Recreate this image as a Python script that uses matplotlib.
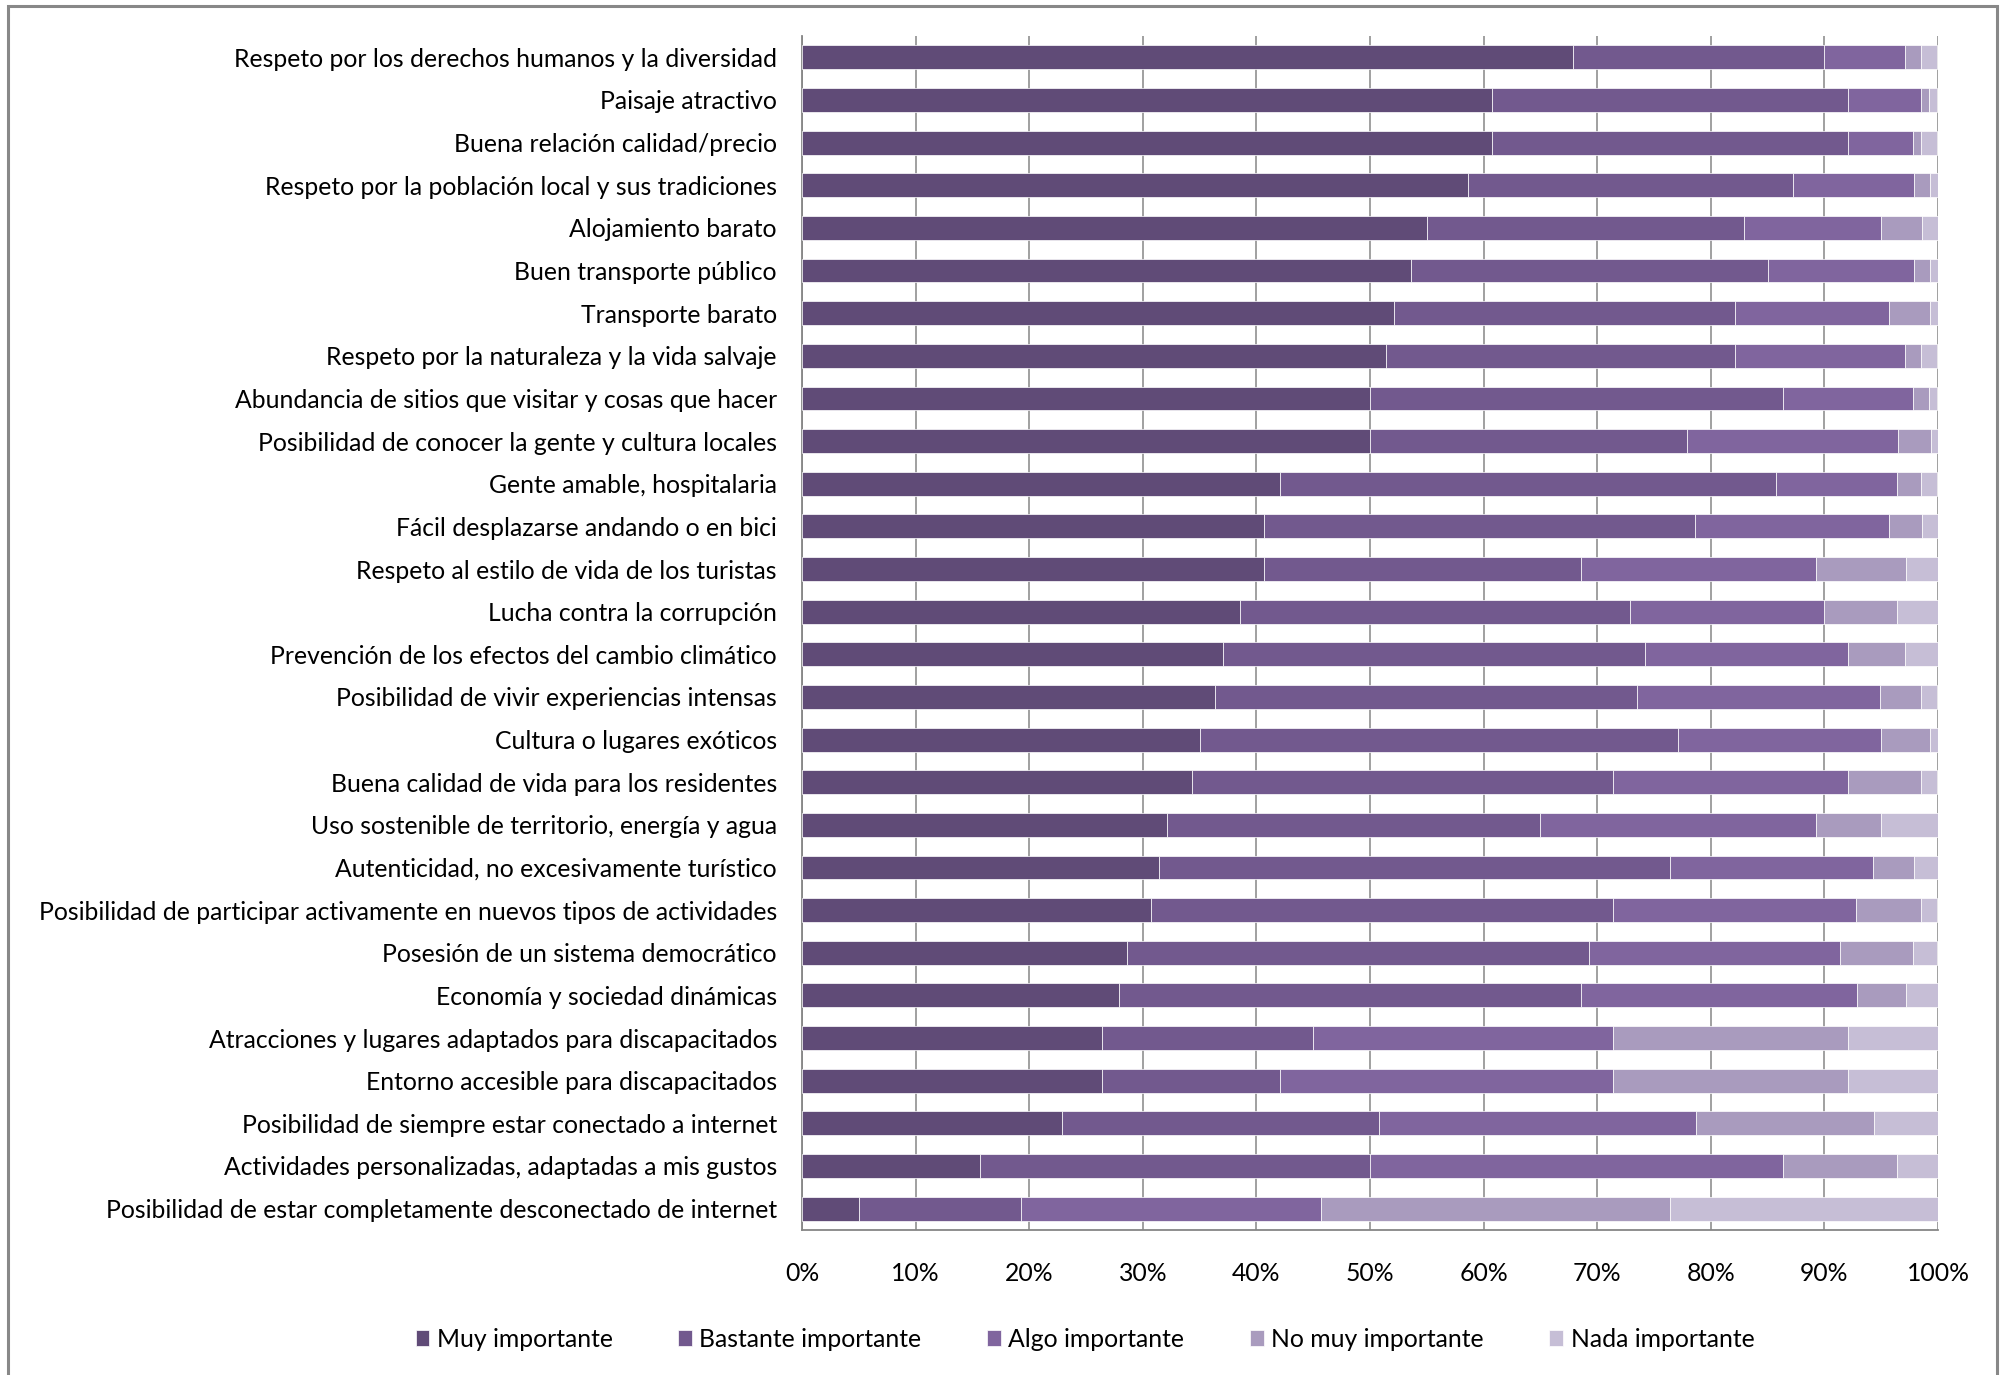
#!/usr/bin/env python3
# -*- coding: utf-8 -*-
"""
Importancia de factores al elegir destino - barras apiladas 100%
"""
import matplotlib
matplotlib.use('Agg')
import matplotlib.pyplot as plt
from matplotlib.patches import Rectangle
from matplotlib.ticker import PercentFormatter

CATEGORIES = [
    'Respeto por los derechos humanos y la diversidad',
    'Paisaje atractivo',
    'Buena relación calidad/precio',
    'Respeto por la población local y sus tradiciones',
    'Alojamiento barato',
    'Buen transporte público',
    'Transporte barato',
    'Respeto por la naturaleza y la vida salvaje',
    'Abundancia de sitios que visitar y cosas que hacer',
    'Posibilidad de conocer la gente y cultura locales',
    'Gente amable, hospitalaria',
    'Fácil desplazarse andando o en bici',
    'Respeto al estilo de vida de los turistas',
    'Lucha contra la corrupción',
    'Prevención de los efectos del cambio climático',
    'Posibilidad de vivir experiencias intensas',
    'Cultura o lugares exóticos',
    'Buena calidad de vida para los residentes',
    'Uso sostenible de territorio, energía y agua',
    'Autenticidad, no excesivamente turístico',
    'Posibilidad de participar activamente en nuevos tipos de actividades',
    'Posesión de un sistema democrático',
    'Economía y sociedad dinámicas',
    'Atracciones y lugares adaptados para discapacitados',
    'Entorno accesible para discapacitados',
    'Posibilidad de siempre estar conectado a internet',
    'Actividades personalizadas, adaptadas a mis gustos',
    'Posibilidad de estar completamente desconectado de internet',
]

SERIES = ['Muy importante', 'Bastante importante', 'Algo importante',
          'No muy importante', 'Nada importante']

# % por categoria (mismo orden que CATEGORIES)
muy = [67.9, 60.7, 60.7, 58.6, 55.0, 53.6, 52.1, 51.4, 50.0, 50.0,
       42.1, 40.7, 40.7, 38.6, 37.1, 36.4, 35.0, 34.3, 32.1, 31.4,
       30.7, 28.6, 27.9, 26.4, 26.4, 22.9, 15.7, 5.0]
bastante = [22.1, 31.4, 31.4, 28.6, 27.9, 31.4, 30.0, 30.7, 36.4, 27.9,
            43.6, 37.9, 27.9, 34.3, 37.1, 37.1, 42.1, 37.1, 32.9, 45.0,
            40.7, 40.7, 40.7, 18.6, 15.7, 27.9, 34.3, 14.3]
algo = [7.1, 6.4, 5.7, 10.7, 12.1, 12.9, 13.6, 15.0, 11.4, 18.6,
        10.7, 17.1, 20.7, 17.1, 17.9, 21.4, 17.9, 20.7, 24.3, 17.9,
        21.4, 22.1, 24.3, 26.4, 29.3, 27.9, 36.4, 26.4]
no_muy = [1.4, 0.7, 0.7, 1.4, 3.6, 1.4, 3.6, 1.4, 1.4, 2.9,
          2.1, 2.9, 7.9, 6.4, 5.0, 3.6, 4.3, 6.4, 5.7, 3.6,
          5.7, 6.4, 4.3, 20.7, 20.7, 15.7, 10.0, 30.7]
nada = [1.4, 0.7, 1.4, 0.7, 1.4, 0.7, 0.7, 1.4, 0.7, 0.7,
        1.4, 1.4, 2.9, 3.6, 2.9, 1.4, 0.7, 1.4, 5.0, 2.1,
        1.4, 2.1, 2.9, 7.9, 7.9, 5.7, 3.6, 23.6]

COLORS = ['#604B77', '#72598E', '#80659E', '#A99BBE', '#C6BED6']
FONT = 'Lato'
FSIZE = 17.85


def make_chart():
    """Barras horizontales apiladas."""
    plt.rcParams['font.family'] = [FONT, 'DejaVu Sans']
    fig = plt.figure(figsize=(20.07, 13.75), dpi=100)
    ax = fig.add_axes([0.3996, 0.1055, 0.566, 0.8683])

    data = [muy, bastante, algo, no_muy, nada]
    ypos = list(range(len(CATEGORIES)))
    left = [0.0] * len(CATEGORIES)
    for name, vals, col in zip(SERIES, data, COLORS):
        ax.barh(ypos, vals, left=left, height=0.56, color=col,
                edgecolor='white', linewidth=0.5, label=name, zorder=3)
        left = [l + v for l, v in zip(left, vals)]

    ax.set_xlim(0, 100)
    ax.set_ylim(len(CATEGORIES) - 0.5, -0.5)
    ax.set_xticks(range(0, 101, 10))
    ax.xaxis.set_major_formatter(PercentFormatter(decimals=0))
    ax.set_yticks(ypos)
    ax.set_yticklabels(CATEGORIES)
    ax.tick_params(axis='y', length=0, pad=18, labelsize=FSIZE)
    ax.tick_params(axis='x', length=0, pad=23, labelsize=FSIZE)
    ax.grid(axis='x', color='#868686', linewidth=1.1, zorder=0)
    for s in ['top', 'right']:
        ax.spines[s].set_visible(False)
    for s in ['left', 'bottom']:
        ax.spines[s].set_color('#868686')
        ax.spines[s].set_linewidth(1.3)

    fig.legend(loc='center', bbox_to_anchor=(0.5406, 0.026), ncol=5,
               frameon=False, fontsize=FSIZE, handlelength=0.55,
               handleheight=0.6, handletextpad=0.3, columnspacing=2.65)

    # borde exterior del grafico
    fig.patches.append(Rectangle((8 / 2007, -0.05), 1989 / 2007, 1.05 - 6 / 1375,
                                 transform=fig.transFigure, fill=False,
                                 edgecolor='#888888', linewidth=2.2))
    fig.savefig('out.png', dpi=100)


def main():
    make_chart()


if __name__ == '__main__':
    main()
